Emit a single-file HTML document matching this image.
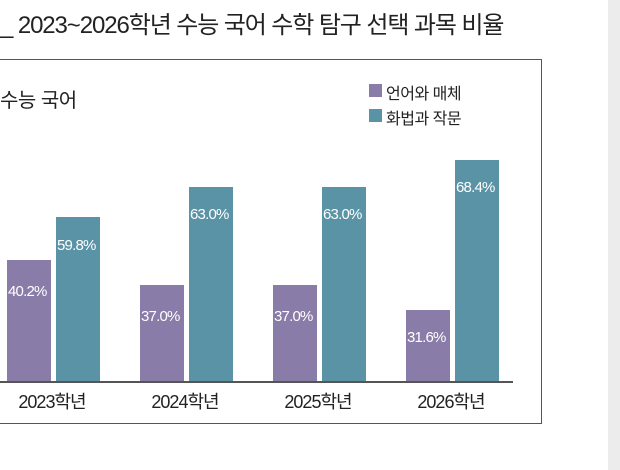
<!DOCTYPE html>
<html><head><meta charset="utf-8"><style>
body{margin:0;width:620px;height:470px;background:#fff;position:relative;overflow:hidden;font-family:"Liberation Sans","Noto Sans CJK KR",sans-serif;color:#222}
.a{position:absolute}
.b{position:absolute;bottom:89px;width:44px}
.p{background:#8a7ca8}.t{background:#5a93a6}
.v{position:absolute;color:#fff;font-size:15px;letter-spacing:-0.8px;white-space:nowrap}
.y{position:absolute;top:388px;font-size:18px;letter-spacing:-1px;width:120px;text-align:center}
</style></head><body>
<div class="a" style="left:608px;top:0;width:12px;height:470px;background:#ececec"></div>
<div class="a" style="left:0;top:5px;font-size:24px;letter-spacing:-1.1px;white-space:nowrap">_ 2023~2026학년 수능 국어 수학 탐구 선택 과목 비율</div>
<div class="a" style="left:-2px;top:59px;width:543px;height:363px;border:1px solid #555;border-left:none"></div>
<div class="a" style="left:0;top:84px;font-size:20px;letter-spacing:-0.5px">수능 국어</div>
<div class="a p" style="left:369px;top:84px;width:13px;height:13px"></div>
<div class="a" style="left:386px;top:80px;font-size:16px;letter-spacing:-0.5px">언어와 매체</div>
<div class="a t" style="left:369px;top:109px;width:13px;height:13px"></div>
<div class="a" style="left:386px;top:105px;font-size:16px;letter-spacing:-0.5px">화법과 작문</div>
<div class="a" style="left:0;top:381px;width:513px;height:2px;background:#555"></div>

<div class="b p" style="left:7px;top:260px"></div><div class="b t" style="left:56px;top:217px"></div>
<div class="b p" style="left:140px;top:285px"></div><div class="b t" style="left:189px;top:187px"></div>
<div class="b p" style="left:273px;top:285px"></div><div class="b t" style="left:322px;top:187px"></div>
<div class="b p" style="left:406px;top:310px"></div><div class="b t" style="left:455px;top:160px"></div>

<div class="v" style="left:8px;top:283px">40.2%</div><div class="v" style="left:57px;top:237px">59.8%</div>
<div class="v" style="left:141px;top:308px">37.0%</div><div class="v" style="left:190px;top:206px">63.0%</div>
<div class="v" style="left:274px;top:308px">37.0%</div><div class="v" style="left:323px;top:206px">63.0%</div>
<div class="v" style="left:407px;top:329px">31.6%</div><div class="v" style="left:456px;top:179px">68.4%</div>

<div class="y" style="left:-8px">2023학년</div>
<div class="y" style="left:125px">2024학년</div>
<div class="y" style="left:258px">2025학년</div>
<div class="y" style="left:391px">2026학년</div>
</body></html>
